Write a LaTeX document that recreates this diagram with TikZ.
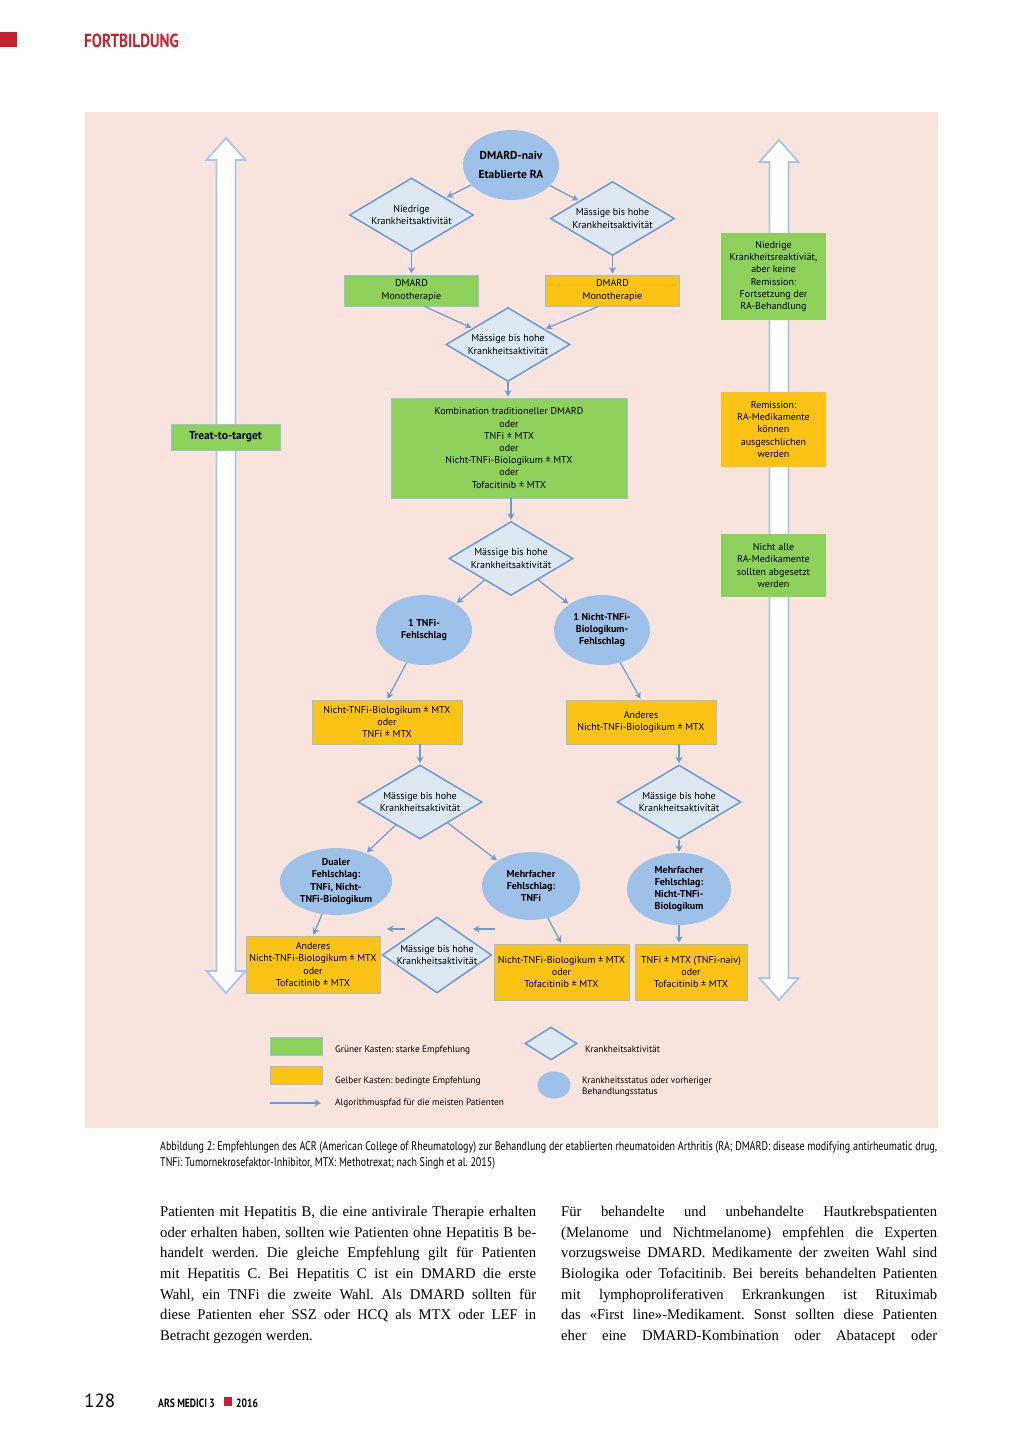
\documentclass[tikz,border=0pt]{standalone}
\usepackage{fontspec}
\setmainfont{Liberation Serif}
\setsansfont{PT Sans}
\newfontfamily\condfont[FakeStretch=0.8]{PT Sans}
\newfontfamily\bodyfont[FakeStretch=0.99]{Liberation Serif}
\usepackage{xcolor}
\usetikzlibrary{shapes.geometric,arrows.meta,positioning}
\frenchspacing
\newcommand{\diagfont}{\sffamily\fontsize{10}{12.2}\selectfont}
\newcommand{\legfont}{\sffamily\fontsize{9.3}{11}\selectfont}
\definecolor{pagepink}{HTML}{F9E3DD}
\definecolor{pagered}{HTML}{C8202F}
\definecolor{flowblue}{HTML}{6B9BD6}
\definecolor{diafill}{HTML}{DDE8F3}
\definecolor{ellfill}{HTML}{9DC1E8}
\definecolor{boxgreen}{HTML}{8DD05A}
\definecolor{boxyellow}{HTML}{FBC315}
\definecolor{boxedge}{HTML}{9DBFE6}
\definecolor{shaftblue}{HTML}{A9C6E8}
\tikzset{
  flowedge/.style  = {flowblue, line width=1.2pt, -{Stealth[length=6.5pt,width=7pt]}, shorten >=1pt},
  activity/.style  = {diamond, draw=flowblue, line width=1.5pt, fill=diafill, inner sep=0pt, aspect=1.68,
                      minimum width=124pt, minimum height=74pt, font=\diagfont, align=center},
  status/.style    = {ellipse, fill=ellfill, inner sep=0pt, minimum width=96pt, minimum height=70pt,
                      font=\diagfont\bfseries, align=center},
  strongbox/.style = {rectangle, draw=boxedge, line width=0.8pt, fill=boxgreen, inner sep=0pt,
                      font=\diagfont, align=center},
  condbox/.style   = {strongbox, fill=boxyellow},
  sidebox/.style   = {rectangle, inner sep=0pt, minimum width=105pt, font=\diagfont, align=center},
  bigshaft/.style  = {draw=shaftblue, line width=1.8pt, fill=white, line join=miter},
  legtext/.style   = {anchor=west, inner sep=0pt, font=\legfont, align=left},
  pagetext/.style  = {anchor=north west, inner sep=0pt, text width=376pt, align=justify,
                      font=\bodyfont\fontsize{14.8}{20.7}\selectfont},
}
\newcommand{\twowayshaft}[3]{%
  \draw[bigshaft] (#1,#2) -- ({#1+19.5},{#2+22}) -- ({#1+9.5},{#2+22}) -- ({#1+9.5},{#3-22})
    -- ({#1+19.5},{#3-22}) -- (#1,#3) -- ({#1-19.5},{#3-22}) -- ({#1-9.5},{#3-22})
    -- ({#1-9.5},{#2+22}) -- ({#1-19.5},{#2+22}) -- cycle;}

\begin{document}
\begin{tikzpicture}[x=1pt,y=-1pt]
  \useasboundingbox (0,0) rectangle (1024,1448);
  \fill[white] (0,0) rectangle (1024,1448);

  % page head
  \fill[pagered] (0,32) rectangle (17,47);
  \node[anchor=base west, inner sep=0pt, text=pagered, font=\condfont\bfseries\fontsize{19}{19}\selectfont] (head) at (84,47) {FORTBILDUNG};

  \fill[pagepink] (85,112) rectangle (938,1128);

  \twowayshaft{226}{138}{993}
  \twowayshaft{779}{140}{1000}

  \node[strongbox, minimum width=109pt, minimum height=26pt, font=\sffamily\bfseries\fontsize{11.5}{12}\selectfont] (t2t) at (225.5,437) {Treat-to-target};
  \node[sidebox, fill=boxgreen, minimum height=87pt] (lowrem) at (773.5,276.5) {Niedrige\\Krankheitsreaktiviät,\\aber keine\\Remission:\\Fortsetzung der\\RA-Behandlung};
  \node[sidebox, fill=boxyellow, minimum height=75pt] (remission) at (773.5,429.5) {Remission:\\RA-Medikamente\\können\\ausgeschlichen\\werden};
  \node[sidebox, fill=boxgreen, minimum height=63pt] (notall) at (773.5,565.5) {Nicht alle\\RA-Medikamente\\sollten abgesetzt\\werden};

  % algorithm
  \node[status, font=\sffamily\bfseries\fontsize{11.5}{19}\selectfont] (naiv) at (511,165) {DMARD-naiv\\Etablierte RA};
  \node[activity] (lowact) at (411.5,215) {Niedrige\\Krankheitsaktivität};
  \node[activity] (modA) at (612.5,218.5) {Mässige bis hohe\\Krankheitsaktivität};
  \node[strongbox, minimum width=134pt, minimum height=31pt] (monoA) at (411.5,290.5) {DMARD\\Monotherapie};
  \node[condbox, minimum width=134pt, minimum height=31pt] (monoB) at (612.5,290.5) {DMARD\\Monotherapie};
  \node[activity] (modB) at (508,344.5) {Mässige bis hohe\\Krankheitsaktivität};
  \node[strongbox, minimum width=236pt, minimum height=100pt] (combo) at (509,448) {Kombination traditioneller DMARD\\oder\\TNFi ± MTX\\oder\\Nicht-TNFi-Biologikum ± MTX\\oder\\Tofacitinib ± MTX};
  \node[activity] (modC) at (511,558.5) {Mässige bis hohe\\Krankheitsaktivität};
  \node[status] (tnffail) at (424,630) {1 TNFi-\\Fehlschlag};
  \node[status] (biofail) at (602,630) {1 Nicht-TNFi-\\Biologikum-\\Fehlschlag};
  \node[condbox, minimum width=150pt, minimum height=44pt] (switchA) at (387,722) {Nicht-TNFi-Biologikum ± MTX\\oder\\TNFi ± MTX};
  \node[condbox, minimum width=150pt, minimum height=44pt] (switchB) at (641,722) {Anderes\\Nicht-TNFi-Biologikum ± MTX};
  \node[activity] (modD) at (420,802) {Mässige bis hohe\\Krankheitsaktivität};
  \node[activity] (modE) at (679,802) {Mässige bis hohe\\Krankheitsaktivität};
  \node[status, minimum width=112pt, minimum height=67pt] (dualfail) at (336,881.5) {Dualer\\Fehlschlag:\\TNFi, Nicht-\\TNFi-Biologikum};
  \node[status, minimum width=98pt, minimum height=68pt] (multitnf) at (531,886) {Mehrfacher\\Fehlschlag:\\TNFi};
  \node[status, minimum width=104pt, minimum height=72pt] (multibio) at (679,889) {Mehrfacher\\Fehlschlag:\\Nicht-TNFi-\\Biologikum};
  \node[condbox, minimum width=134pt, minimum height=57pt] (otherbio) at (313,964.5) {Anderes\\Nicht-TNFi-Biologikum ± MTX\\oder\\Tofacitinib ± MTX};
  \node[activity, aspect=1.5, minimum width=106pt, minimum height=76pt] (modF) at (437,955) {Mässige bis hohe\\Krankheitsaktivität};
  \node[condbox, minimum width=135pt, minimum height=56pt] (biotofa) at (561.5,972) {Nicht-TNFi-Biologikum ± MTX\\oder\\Tofacitinib ± MTX};
  \node[condbox, minimum width=112pt, minimum height=56pt] (tnftofa) at (691,972) {TNFi ± MTX (TNFi-naiv)\\oder\\Tofacitinib ± MTX};
  \coordinate (backAs) at (495,929);
  \coordinate (backAe) at (472,929);
  \coordinate (backBs) at (405,929);
  \coordinate (backBe) at (386,929);

  \path (naiv) edge[flowedge] (lowact);
  \path (naiv) edge[flowedge] (modA);
  \path (lowact.south) edge[flowedge] (monoA.north);
  \path (modA.south) edge[flowedge] (monoB.north);
  \path ([xshift=13pt]monoA.south) edge[flowedge] (modB);
  \path ([xshift=-14pt]monoB.south) edge[flowedge] (modB);
  \path (modB.south) edge[flowedge] (modB.south |- combo.north);
  \path (combo.south -| modC.north) edge[flowedge] (modC.north);
  \path (modC) edge[flowedge] (tnffail);
  \path (modC) edge[flowedge] (biofail);
  \path (tnffail) edge[flowedge] (switchA.north);
  \path (biofail) edge[flowedge] (switchB.north);
  \path (switchA.south -| modD.north) edge[flowedge] (modD.north);
  \path (switchB.south -| modE.north) edge[flowedge] (modE.north);
  \path (modD) edge[flowedge] (dualfail);
  \path (modD) edge[flowedge] (multitnf);
  \path (modE.south) edge[flowedge] (multibio.north);
  \path (dualfail) edge[flowedge] (otherbio.north);
  \path (multitnf) edge[flowedge] (biotofa.north);
  \path (multibio.south) edge[flowedge] (multibio.south |- tnftofa.north);
  \path (backAs) edge[flowedge] (backAe);
  \path (backBs) edge[flowedge] (backBe);

  % legend
  \node[strongbox, minimum width=52pt, minimum height=18pt] (leggreen) at (296,1046) {};
  \node[condbox, minimum width=52pt, minimum height=18pt] (legyellow) at (296,1075) {};
  \coordinate (legas) at (270,1103);
  \coordinate (legae) at (322,1103);
  \path (legas) edge[flowedge] (legae);
  \node[activity, minimum width=52pt, minimum height=33pt] (legdia) at (551,1043.5) {};
  \node[status, minimum width=33pt, minimum height=27pt] (legell) at (554,1085) {};
  \node[legtext] (leggreent) at (335,1050) {Grüner Kasten: starke Empfehlung};
  \node[legtext] (legyellowt) at (335,1081) {Gelber Kasten: bedingte Empfehlung};
  \node[legtext] (legarrowt) at (335,1103) {Algorithmuspfad für die meisten Patienten};
  \node[legtext] (legdiat) at (585,1049) {Krankheitsaktivität};
  \node[legtext] (legellt) at (582,1086.5) {Krankheitsstatus oder vorheriger\\Behandlungsstatus};

  % caption and running text
  \node[anchor=north west, inner sep=0pt, text width=777pt, align=justify, font=\condfont\fontsize{12.5}{16}\selectfont] (caption) at (160,1141) {Abbildung 2: Empfehlungen des ACR (American College of Rheumatology) zur Behandlung der etablierten rheumatoiden Arthritis (RA; DMARD: disease modifying antirheumatic drug, \linebreak TNFi: Tumornekrosefaktor-Inhibitor, MTX: Methotrexat; nach Singh et al. 2015)};
  \node[pagetext] (colA) at (160,1206) {\hyphenpenalty=10000 \tolerance=10000 Patienten mit Hepatitis B, die eine antivirale Therapie erhalten \linebreak oder erhalten haben, sollten wie Patienten ohne Hepatitis B be-\linebreak handelt werden. Die gleiche Empfehlung gilt für Patienten \linebreak mit Hepatitis C. Bei Hepatitis C ist ein DMARD die erste \linebreak Wahl, ein TNFi die zweite Wahl. Als DMARD sollten für \linebreak diese Patienten eher SSZ oder HCQ als MTX oder LEF in \linebreak Betracht gezogen werden.};
  \node[pagetext] (colB) at (561,1206) {\hyphenpenalty=10000 \tolerance=10000 Für behandelte und unbehandelte Hautkrebspatienten \linebreak (Melanome und Nichtmelanome) empfehlen die Experten \linebreak vorzugsweise DMARD. Medikamente der zweiten Wahl sind \linebreak Biologika oder Tofacitinib. Bei bereits behandelten Patienten \linebreak mit lymphoproliferativen Erkrankungen ist Rituximab \linebreak das «First line»-Medikament. Sonst sollten diese Patienten \linebreak eher eine DMARD-Kombination oder Abatacept oder \linebreak\null};

  % page foot
  \node[anchor=base west, inner sep=0pt, font=\sffamily\fontsize{19}{19}\selectfont] (pageno) at (84,1407) {128};
  \node[anchor=base west, inner sep=0pt, font=\condfont\bfseries\fontsize{12}{12}\selectfont] (journal) at (158,1407) {ARS MEDICI 3};
  \fill[pagered] (224,1397) rectangle (232,1406);
  \node[anchor=base west, inner sep=0pt, font=\condfont\bfseries\fontsize{12}{12}\selectfont] (year) at (236,1407) {2016};
\end{tikzpicture}
\end{document}
